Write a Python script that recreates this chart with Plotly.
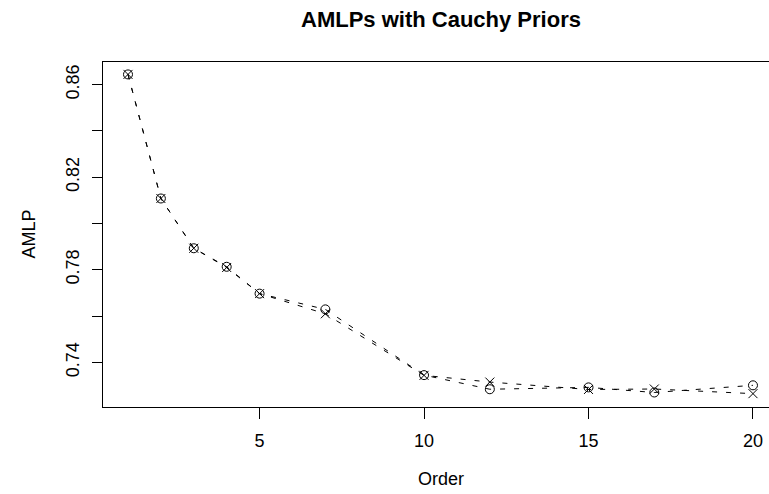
import plotly.graph_objects as go

orders = [1, 2, 3, 4, 5, 7, 10, 12, 15, 17, 20]
amlp_circle = [0.8644, 0.8108, 0.7893, 0.7813, 0.7697, 0.7629, 0.7345, 0.7284, 0.7292, 0.7270, 0.7301]
amlp_cross = [0.8644, 0.8108, 0.7893, 0.7810, 0.7697, 0.7610, 0.7344, 0.7315, 0.7283, 0.7285, 0.7265]
x_ticks = [5, 10, 15, 20]
y_ticks = [0.74, 0.76, 0.78, 0.80, 0.82, 0.84, 0.86]
y_ticktext = ["0.74", "", "0.78", "", "0.82", "", "0.86"]

FONT = "Liberation Sans, Arial, sans-serif"
W, H = 769, 494
L, R, T, B = 103, 0, 62, 87
PW, PH = W - L - R, H - T - B

fig = go.Figure()
fig.add_trace(go.Scatter(
    x=orders, y=amlp_circle, mode="lines+markers",
    line=dict(color="black", width=1, dash="5px,9px"),
    marker=dict(symbol="circle-open", size=9, color="black", line=dict(width=1, color="black")),
    showlegend=False, hoverinfo="skip"))
fig.add_trace(go.Scatter(
    x=orders, y=amlp_cross, mode="lines+markers",
    line=dict(color="black", width=1, dash="5px,9px"),
    marker=dict(symbol="x-thin-open", size=9, color="black", line=dict(width=1, color="black")),
    showlegend=False, hoverinfo="skip"))

fig.update_layout(
    width=W, height=H,
    margin=dict(l=L, r=R, t=T, b=B, autoexpand=False),
    plot_bgcolor="white", paper_bgcolor="white",
    font=dict(family=FONT, size=18, color="black"),
    xaxis=dict(range=[0.24, 20.487], tickvals=x_ticks, ticktext=[str(v) for v in x_ticks],
               showgrid=False, zeroline=False, showline=True, linecolor="black", linewidth=1,
               mirror=True, ticks="outside", ticklen=11, tickwidth=1, tickcolor="black",
               tickfont=dict(size=18), automargin=False, ticklabelstandoff=6),
    yaxis=dict(range=[0.72073, 0.86976], tickvals=y_ticks, ticktext=y_ticktext,
               showgrid=False, zeroline=False, showline=True, linecolor="black", linewidth=1,
               mirror=False, ticks="outside", ticklen=10, tickwidth=1, tickcolor="black",
               tickangle=-90, tickfont=dict(size=18), automargin=False, ticklabelstandoff=6),
)

def px_x(px):
    return (px - L) / PW

def px_y(py):
    return (H - B - py) / PH

fig.add_annotation(text="<b>AMLPs with Cauchy Priors</b>", xref="paper", yref="paper",
                   x=px_x(440.5), y=px_y(19.5), xanchor="center", yanchor="middle",
                   showarrow=False, font=dict(size=22, family=FONT, color="black"))
fig.add_annotation(text="Order", xref="paper", yref="paper",
                   x=px_x(440.5), y=px_y(479), xanchor="center", yanchor="middle",
                   showarrow=False, font=dict(size=18, family=FONT, color="black"))
fig.add_annotation(text="AMLP", xref="paper", yref="paper", textangle=-90,
                   x=px_x(28), y=0.5, xanchor="center", yanchor="middle",
                   showarrow=False, font=dict(size=18, family=FONT, color="black"))

fig.write_html("out.html", config={"displayModeBar": False},
               post_script="document.body.style.margin='0px';document.body.style.overflow='hidden';")
